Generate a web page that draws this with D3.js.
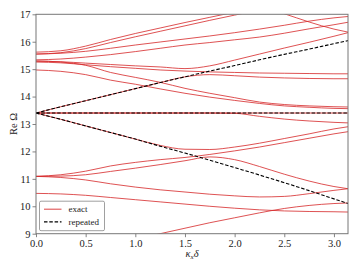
<!DOCTYPE html>
<html>
<head>
<meta charset="utf-8">
<script src="https://cdn.jsdelivr.net/npm/d3@7"></script>
<style>
body { margin: 0; background: #fff; }
svg text { font-family: "Liberation Serif", "DejaVu Serif", serif; fill: #222; }
</style>
</head>
<body>
<div id="chart"></div>
<script>
// kappa_x * delta sample points
var kappa = [0, 0.25, 0.5, 0.75, 1.0, 1.25, 1.5, 1.75, 2.0, 2.25, 2.5, 2.75, 3.0, 3.1416];

// exact branches (Re Omega)
var u1 = [15.62, 15.67, 15.84, 16.08, 16.30, 16.50, 16.70, 16.89, 17.08, 17.27, 17.46, 17.65, 17.84, 17.95];
var u2 = [15.55, 15.60, 15.75, 15.97, 16.18, 16.38, 16.58, 16.78, 16.97, 17.16, 17.35, 17.54, 17.73, 17.84];
var u3 = [15.55, 15.58, 15.65, 15.76, 15.88, 15.99, 16.10, 16.21, 16.33, 16.46, 16.60, 16.75, 16.87, 16.92];
var u4 = [15.34, 15.37, 15.44, 15.53, 15.64, 15.76, 15.88, 15.97, 16.07, 16.17, 16.31, 16.47, 16.62, 16.71];
var u5 = [15.29, 15.27, 15.22, 15.17, 15.12, 15.08, 15.02, 15.12, 15.33, 15.55, 15.77, 15.98, 16.20, 16.33];
var u6 = [15.26, 15.23, 15.16, 15.09, 15.03, 14.97, 14.93, 14.90, 14.88, 14.86, 14.85, 14.84, 14.83, 14.83];
var u7 = [15.30, 15.26, 15.14, 14.88, 14.70, 14.52, 14.30, 14.12, 13.96, 13.80, 13.71, 13.66, 13.63, 13.62];
var u8 = [14.97, 14.92, 14.80, 14.60, 14.45, 14.28, 14.12, 13.98, 13.86, 13.75, 13.66, 13.61, 13.57, 13.56];
var top1 = [18.90, 18.85, 18.75, 18.60, 18.45, 18.25, 18.05, 17.80, 17.55, 17.30, 17.02, 16.72, 16.46, 16.35];
var dUp = [13.40, 13.63, 13.85, 14.07, 14.29, 14.51, 14.72, 14.80, 14.76, 14.71, 14.68, 14.66, 14.65, 14.65];
var m1 = [13.40, 13.40, 13.40, 13.40, 13.40, 13.40, 13.40, 13.40, 13.40, 13.40, 13.40, 13.40, 13.40, 13.40];
var m2 = [13.40, 13.40, 13.40, 13.40, 13.40, 13.40, 13.40, 13.40, 13.39, 13.28, 13.18, 13.11, 13.06, 13.04];
var dDn = [13.40, 13.17, 12.93, 12.69, 12.45, 12.22, 12.08, 12.07, 12.16, 12.30, 12.47, 12.64, 12.82, 12.90];
var l2a = [11.09, 11.15, 11.28, 11.47, 11.60, 11.70, 11.78, 11.89, 12.02, 12.16, 12.32, 12.48, 12.64, 12.72];
var l2b = [11.09, 11.10, 11.15, 11.27, 11.39, 11.52, 11.66, 11.80, 11.70, 11.45, 11.17, 10.92, 10.72, 10.64];
var l3 = [11.09, 11.05, 10.96, 10.82, 10.70, 10.60, 10.52, 10.44, 10.38, 10.34, 10.36, 10.46, 10.58, 10.64];
var l4 = [10.47, 10.45, 10.40, 10.32, 10.24, 10.16, 10.08, 10.00, 9.93, 9.87, 9.83, 9.81, 9.80, 9.79];
var l5 = [8.20, 8.34, 8.48, 8.62, 8.80, 9.00, 9.20, 9.40, 9.58, 9.76, 9.92, 10.03, 10.10, 10.12];

// repeated (folded) branches
var repUp = [13.40, 13.63, 13.85, 14.07, 14.29, 14.51, 14.72, 14.93, 15.13, 15.34, 15.54, 15.73, 15.93, 16.04];
var repMid = [13.40, 13.40, 13.40, 13.40, 13.40, 13.40, 13.40, 13.40, 13.40, 13.40, 13.40, 13.40, 13.40, 13.40];
var repDn = [13.40, 13.17, 12.93, 12.69, 12.45, 12.19, 11.94, 11.68, 11.41, 11.14, 10.86, 10.57, 10.27, 10.10];

var exact = [u1, u2, u3, u4, u5, u6, u7, u8, top1, dUp, m1, m2, dDn, l2a, l2b, l3, l4, l5];
var repeated = [repUp, repMid, repDn];

var xTicks = [0.0, 0.5, 1.0, 1.5, 2.0, 2.5, 3.0];
var yTicks = [9, 10, 11, 12, 13, 14, 15, 16, 17];

var W = 359, H = 269;
var margin = {left: 36, right: 11, top: 14.3, bottom: 35.3};

var svg = d3.select("#chart").append("svg").attr("width", W).attr("height", H);

var x = d3.scaleLinear().domain([0, Math.PI]).range([margin.left, W - margin.right]);
var y = d3.scaleLinear().domain([9, 17]).range([H - margin.bottom, margin.top]);

svg.append("clipPath").attr("id", "plotclip").append("rect")
	.attr("x", x(0)).attr("y", y(17))
	.attr("width", x(Math.PI) - x(0)).attr("height", y(9) - y(17));

var line = d3.line()
	.x(function(d, i) { return x(kappa[i]); })
	.y(function(d) { return y(d); })
	.curve(d3.curveMonotoneX);

var plot = svg.append("g").attr("clip-path", "url(#plotclip)");

plot.selectAll("path.exact").data(exact).enter().append("path")
	.attr("class", "exact")
	.attr("d", line)
	.attr("fill", "none")
	.attr("stroke", "#d62728")
	.attr("stroke-opacity", 0.8)
	.attr("stroke-width", 1);

plot.selectAll("path.rep").data(repeated).enter().append("path")
	.attr("class", "rep")
	.attr("d", line)
	.attr("fill", "none")
	.attr("stroke", "#000")
	.attr("stroke-width", 1.1)
	.attr("stroke-dasharray", "3.5,1.8");

// axes
var xAxis = d3.axisBottom(x).tickValues(xTicks).tickFormat(d3.format(".1f")).tickSize(3.5).tickPadding(2);
var yAxis = d3.axisLeft(y).tickValues(yTicks).tickFormat(d3.format("d")).tickSize(3.5).tickPadding(2);

var gx = svg.append("g").attr("transform", "translate(0," + y(9) + ")").call(xAxis);
var gy = svg.append("g").attr("transform", "translate(" + x(0) + ",0)").call(yAxis);
[gx, gy].forEach(function(g) {
	g.select(".domain").remove();
	g.selectAll(".tick line").attr("stroke", "#777").attr("stroke-width", 0.9);
	g.selectAll(".tick text").style("font-size", "10.5px").attr("fill", "#222");
});

// frame
svg.append("rect")
	.attr("x", x(0)).attr("y", y(17))
	.attr("width", x(Math.PI) - x(0)).attr("height", y(9) - y(17))
	.attr("fill", "none").attr("stroke", "#777").attr("stroke-width", 1);

// axis labels
svg.append("text")
	.attr("x", (x(0) + x(Math.PI)) / 2).attr("y", 257)
	.attr("text-anchor", "middle").style("font-size", "10.5px")
	.html('<tspan font-style="italic">κ</tspan><tspan font-style="italic" font-size="7px" dy="2">x</tspan><tspan font-style="italic" dy="-2">δ</tspan>');

svg.append("text")
	.attr("transform", "translate(17," + ((y(9) + y(17)) / 2) + ") rotate(-90)")
	.attr("text-anchor", "middle").style("font-size", "10.5px")
	.text("Re Ω");

// legend
var leg = svg.append("g").attr("transform", "translate(" + (x(0) + 3.5) + "," + (y(9) - 32.5) + ")");
leg.append("rect").attr("width", 65).attr("height", 29.5).attr("rx", 1.5)
	.attr("fill", "#fff").attr("fill-opacity", 0.8).attr("stroke", "#888").attr("stroke-width", 0.8);
var items = [{label: "exact", dash: null, color: "#d62728"}, {label: "repeated", dash: "3.5,1.8", color: "#000"}];
items.forEach(function(it, i) {
	var yy = 8 + i * 12.7;
	leg.append("line").attr("x1", 4.5).attr("x2", 22).attr("y1", yy).attr("y2", yy)
		.attr("stroke", it.color).attr("stroke-width", 1.1)
		.attr("stroke-opacity", it.dash ? 1 : 0.8)
		.attr("stroke-dasharray", it.dash);
	leg.append("text").attr("x", 29).attr("y", yy + 3).style("font-size", "9px").text(it.label);
});
</script>
</body>
</html>
